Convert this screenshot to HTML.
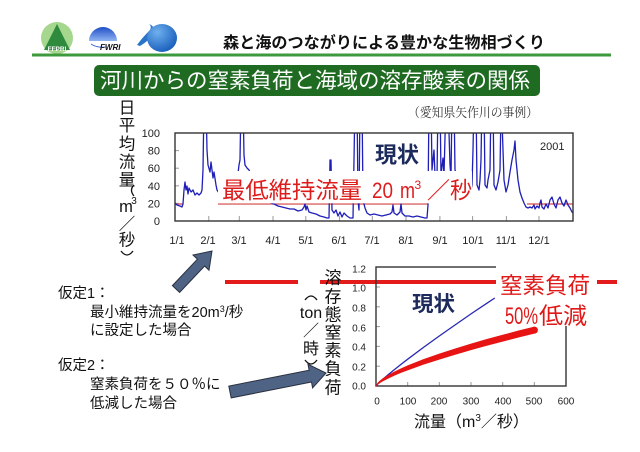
<!DOCTYPE html>
<html><head><meta charset="utf-8"><style>
html,body{margin:0;padding:0;background:#fff;}
svg{display:block;}
text{font-family:"Liberation Sans","Noto Sans CJK JP",sans-serif;}
.tk{font-family:"Liberation Sans",sans-serif;font-size:11px;fill:#222;}
.tk2{font-family:"Liberation Sans",sans-serif;font-size:10px;fill:#222;}
</style></head><body>
<svg width="640" height="452" viewBox="0 0 640 452" xmlns="http://www.w3.org/2000/svg">
<defs>
<linearGradient id="g2" x1="0" y1="0" x2="0" y2="1"><stop offset="0" stop-color="#1f4fc8"/><stop offset="1" stop-color="#8fb4f2"/></linearGradient>
<radialGradient id="g3" cx="0.35" cy="0.3" r="0.8"><stop offset="0" stop-color="#6fb0ee"/><stop offset="1" stop-color="#1258b8"/></radialGradient>
<clipPath id="c1"><rect x="175" y="133" width="398" height="88"/></clipPath>
</defs>
<rect width="640" height="452" fill="#fff"/>

<!-- logos -->
<circle cx="57" cy="38" r="16" fill="#a6d78f"/>
<polygon points="57,24 44,50 70,50" fill="#2e8a3c"/>
<text x="57" y="51" text-anchor="middle" font-size="6.5" font-weight="bold" fill="#fff">FFPRI</text>
<path d="M89,41 A14,14 0 0 1 117,41 Z" fill="url(#g2)"/>
<path d="M90,42 Q96,46 104,45" stroke="#fff" stroke-width="1" fill="none"/>
<path d="M91,44 Q97,48 106,47" stroke="#3a68d8" stroke-width="1" fill="none"/>
<text x="100" y="50" font-size="8" font-weight="bold" font-style="italic" fill="#111">FWRI</text>
<path d="M137,45 Q142,38 150,30 Q152,26 149,24 Q155,26 154,33 Q150,40 140,46 Z" fill="#2a74c8"/>
<ellipse cx="162" cy="38" rx="15" ry="14" fill="url(#g3)"/>

<text x="223" y="48" font-size="16" font-weight="bold" fill="#111" textLength="322" lengthAdjust="spacingAndGlyphs">森と海のつながりによる豊かな生物相づくり</text>
<rect x="32" y="53.5" width="579" height="3" fill="#3c9a3c"/>

<!-- title -->
<rect x="94" y="65" width="446" height="31" rx="5" fill="#1f6b22"/>
<text x="100" y="88" font-size="21.5" fill="#fff" textLength="430" lengthAdjust="spacingAndGlyphs">河川からの窒素負荷と海域の溶存酸素の関係</text>
<text x="408" y="117" font-size="13" fill="#333" style="font-family:'Liberation Serif','Noto Serif CJK SC',serif" textLength="130" lengthAdjust="spacingAndGlyphs">（愛知県矢作川の事例）</text>

<!-- top Y label -->
<g font-size="16.5" fill="#111" text-anchor="middle">
<text x="127" y="113.5">日</text>
<text x="127" y="131">平</text>
<text x="127" y="149.5">均</text>
<text x="127" y="167.5">流</text>
<text x="127" y="185.5">量</text>
<text x="126" y="212" style="font-family:'Liberation Sans',sans-serif">m</text>
<text x="134" y="204" font-size="10" style="font-family:'Liberation Sans',sans-serif">3</text>
<text x="127" y="229.5">／</text>
<text x="127" y="245.5">秒</text>
</g>
<path d="M134,185 Q129,190 134,196" stroke="#111" stroke-width="1.3" fill="none"/>
<path d="M121,251 Q127,259 133,251" stroke="#111" stroke-width="1.3" fill="none"/>

<!-- top chart ticks labels -->
<g class="tk" text-anchor="end">
<text x="160" y="137">100</text>
<text x="160" y="154.6">80</text>
<text x="160" y="172.2">60</text>
<text x="160" y="189.8">40</text>
<text x="160" y="207.4">20</text>
<text x="160" y="225">0</text>
</g>
<g class="tk" text-anchor="middle">
<text x="177" y="244">1/1</text>
<text x="208" y="244">2/1</text>
<text x="239" y="244">3/1</text>
<text x="273" y="244">4/1</text>
<text x="306" y="244">5/1</text>
<text x="339" y="244">6/1</text>
<text x="372" y="244">7/1</text>
<text x="406" y="244">8/1</text>
<text x="440" y="244">9/1</text>
<text x="473" y="244">10/1</text>
<text x="506" y="244">11/1</text>
<text x="539" y="244">12/1</text>
</g>
<g stroke="#999" stroke-width="1">
<line x1="175" y1="150.6" x2="179" y2="150.6"/><line x1="175" y1="168.2" x2="179" y2="168.2"/><line x1="175" y1="185.8" x2="179" y2="185.8"/><line x1="175" y1="203.4" x2="179" y2="203.4"/>
<line x1="208.8" y1="216" x2="208.8" y2="221"/><line x1="239.3" y1="216" x2="239.3" y2="221"/><line x1="273" y1="216" x2="273" y2="221"/><line x1="305.8" y1="216" x2="305.8" y2="221"/><line x1="339.6" y1="216" x2="339.6" y2="221"/><line x1="372.3" y1="216" x2="372.3" y2="221"/><line x1="406" y1="216" x2="406" y2="221"/><line x1="439.9" y1="216" x2="439.9" y2="221"/><line x1="472.6" y1="216" x2="472.6" y2="221"/><line x1="506.4" y1="216" x2="506.4" y2="221"/><line x1="539" y1="216" x2="539" y2="221"/>
</g>

<!-- min flow red line -->
<g stroke="#d44a4a" stroke-width="1.3">
<line x1="175" y1="204" x2="183" y2="204"/>
<line x1="218" y1="204" x2="428" y2="204"/>
<line x1="527" y1="204" x2="573" y2="204"/>
</g>

<!-- data -->
<g clip-path="url(#c1)">
<polyline fill="none" stroke="#1f1fb8" stroke-width="1.3" stroke-linejoin="round" points="175,203 177,205 180,206 182,207 183,204 184,190 185,182 186,190 187,186 188,194 189,188 191,192 193,190 195,195 197,193 199,195 201,193 202,190 203,170 204,100 206,100 207,150 208,165 210,172 211,162 213,178 214,172 216,185 217,190 219,193 222,190 226,188 230,186 234,185 237,182 239,165 240,160 241,100 243,100 244,155 245,165 247,168 249,170 252,176 256,182 260,188 264,194 268,200 271,203 274,204 278,206 282,207 286,208 290,209 294,209 298,211 302,210 304,207 305,204 306,210 307,206 309,212 312,213 316,214 320,216 324,217 327,218 329,218 330,160 331,160 332,210 334,213 336,210 338,216 340,212 342,217 344,213 347,216 350,218 353,218 354,160 355,100 357,100 358,200 359,210 360,100 362,100 363,200 365,208 367,213 370,215 374,214 378,215 382,216 386,215 390,214 392,212 393,205 394,213 397,215 400,212 401,204 402,213 405,216 409,216 413,217 417,216 421,217 425,218 427,218 428,205 429,100 431,100 432,170 434,150 435,175 437,178 438,100 440,100 441,175 443,158 444,175 446,100 448,100 450,165 451,178 452,100 454,100 455,170 457,175 460,182 463,188 466,192 469,197 471,190 472,185 473,150 474,100 476,100 477,185 479,190 480,180 481,160 482,100 484,100 485,185 487,188 488,180 490,170 491,100 493,100 494,185 496,190 498,182 500,170 501,110 502,120 504,180 506,192 508,185 510,172 512,160 514,150 515,141 516,160 518,180 520,192 522,198 524,203 526,207 528,208 530,207 532,208 534,205 535,209 537,206 539,208 540,203 541,200 542,207 544,209 546,204 548,208 550,200 552,197 554,204 556,208 558,200 560,197 562,203 564,206 566,200 568,205 570,208 572,212 573,213"/>
</g>
<rect x="175" y="133" width="398" height="88" fill="none" stroke="#333" stroke-width="1.4"/>

<!-- label box top chart -->
<rect x="218" y="171" width="254" height="32.3" fill="#fff"/>
<g fill="#dd1c1c">
<text x="222" y="198" font-size="23" textLength="140" lengthAdjust="spacingAndGlyphs">最低維持流量</text>
<text x="372" y="198" font-size="22" style="font-family:'Liberation Sans',sans-serif" textLength="21" lengthAdjust="spacingAndGlyphs">20</text>
<text x="400" y="198" font-size="22" style="font-family:'Liberation Sans',sans-serif" textLength="15" lengthAdjust="spacingAndGlyphs">m</text>
<text x="414.5" y="189" font-size="12" style="font-family:'Liberation Sans',sans-serif">3</text>
<text x="427" y="198" font-size="23" textLength="23" lengthAdjust="spacingAndGlyphs">／</text>
<text x="450" y="198" font-size="23" textLength="22" lengthAdjust="spacingAndGlyphs">秒</text>
</g>
<text x="375" y="162.5" font-size="22" font-weight="bold" fill="#1c2a5c" textLength="44" lengthAdjust="spacingAndGlyphs">現状</text>
<text x="540" y="150" font-size="11" style="font-family:'Liberation Sans',sans-serif" fill="#222">2001</text>

<!-- arrows -->
<polygon points="172.4,285.6 197.4,259.2 193,255 212,251 209,270.2 204.6,266 179.6,292.4" fill="#4f6484" stroke="#2a3040" stroke-width="1"/>
<polygon points="228.8,386.1 309.1,370.2 308,364.3 326,373 312.6,387.9 311.5,382 231.2,397.9" fill="#4f6484" stroke="#2a3040" stroke-width="1"/>

<!-- left text -->
<g font-size="14.5" fill="#111">
<text x="58" y="298">仮定1：</text>
<text x="90" y="317">最小維持流量を20m<tspan font-size="9" dy="-5">3</tspan><tspan dy="5">/秒</tspan></text>
<text x="90" y="335">に設定した場合</text>
<text x="58" y="370">仮定2：</text>
<text x="90" y="389">窒素負荷を５０％に</text>
<text x="90" y="408">低減した場合</text>
</g>

<!-- red horizontal line -->
<g stroke="#e31b1b" stroke-width="4">
<line x1="225" y1="282" x2="298" y2="282"/>
<line x1="320" y1="282" x2="496" y2="282"/>
<line x1="597" y1="282" x2="617" y2="282"/>
</g>

<!-- bottom chart -->
<g stroke="#999" stroke-width="1">
<line x1="376" y1="366.2" x2="380" y2="366.2"/><line x1="376" y1="346.4" x2="380" y2="346.4"/><line x1="376" y1="326.6" x2="380" y2="326.6"/><line x1="376" y1="306.8" x2="380" y2="306.8"/><line x1="376" y1="287" x2="380" y2="287"/>
<line x1="407.7" y1="382" x2="407.7" y2="386"/><line x1="439.3" y1="382" x2="439.3" y2="386"/><line x1="471" y1="382" x2="471" y2="386"/><line x1="502.7" y1="382" x2="502.7" y2="386"/><line x1="534.3" y1="382" x2="534.3" y2="386"/>
</g>
<rect x="376" y="267" width="190" height="119" fill="none" stroke="#333" stroke-width="1.4"/>
<polyline fill="none" stroke="#2828b4" stroke-width="1.3" points="376,386 377.6,384.2 379.2,382.6 382.3,379.7 388.7,374.2 395,369.1 401.3,364.1 407.7,359.2 423.5,347.4 439.3,336 455.2,324.9 471,313.9 486.8,303.3 494.8,298"/>
<polygon fill="#e81414" points="376,385.25 377.6,382.8 379.2,381.15 382.3,378.6 388.7,374.65 395,371.2 401.3,368.2 407.7,365.4 423.5,359.15 439.3,353.6 455.2,348.5 471,343.65 486.8,339.05 502.7,334.8 518.5,330.5 534.4,326.6 534.4,333.6 518.5,337.5 502.7,341.6 486.8,345.75 471,350.15 455.2,354.7 439.3,359.6 423.5,364.65 407.7,370.4 401.3,372.8 395,375.4 388.7,378.35 382.3,381.6 379.2,383.65 377.6,384.8 376,386.75"/>
<circle cx="534.4" cy="330.1" r="3.5" fill="#e81414"/>

<rect x="496" y="260" width="101" height="66" fill="#fff"/>
<g fill="#e01818">
<text x="500" y="293.5" font-size="22.5" textLength="90" lengthAdjust="spacingAndGlyphs">窒素負荷</text>
<text x="505" y="324" font-size="24" style="font-family:'Liberation Sans',sans-serif" textLength="33" lengthAdjust="spacingAndGlyphs">50%</text>
<text x="539" y="323.5" font-size="23" textLength="48" lengthAdjust="spacingAndGlyphs">低減</text>
</g>
<text x="412" y="311" font-size="21" font-weight="bold" fill="#1c2a5c" textLength="43" lengthAdjust="spacingAndGlyphs">現状</text>

<g class="tk2" text-anchor="end">
<text x="366" y="272.5">1.2</text>
<text x="366" y="291.5">1.0</text>
<text x="366" y="311.5">0.8</text>
<text x="366" y="331.5">0.6</text>
<text x="366" y="350.5">0.4</text>
<text x="366" y="370.5">0.2</text>
<text x="366" y="389.5">0.0</text>
</g>
<g class="tk2" text-anchor="middle">
<text x="377" y="404.5">0</text>
<text x="408" y="404.5">100</text>
<text x="439" y="404.5">200</text>
<text x="471" y="404.5">300</text>
<text x="503" y="404.5">400</text>
<text x="534" y="404.5">500</text>
<text x="566" y="404.5">600</text>
</g>
<text x="414" y="427" font-size="16" fill="#111">流量（m<tspan font-size="10" dy="-6">3</tspan><tspan dy="6">／秒）</tspan></text>

<!-- bottom Y label -->
<g font-size="17" fill="#111" text-anchor="middle">
<text x="333" y="283.5">溶</text>
<text x="333" y="302.5">存</text>
<text x="333" y="320.5">態</text>
<text x="333" y="338.5">窒</text>
<text x="333" y="356.5">素</text>
<text x="333" y="374.5">負</text>
<text x="333" y="393.5">荷</text>
<text x="311" y="318" font-size="16" style="font-family:'Liberation Sans',sans-serif">ton</text>
<text x="311" y="336" font-size="16">／</text>
<text x="311" y="354" font-size="16">時</text>
</g>
<path d="M305,300 Q311,292 317,300" stroke="#111" stroke-width="1.3" fill="none"/>
<path d="M305,360 Q311,368 317,360" stroke="#111" stroke-width="1.3" fill="none"/>
</svg>
</body></html>
